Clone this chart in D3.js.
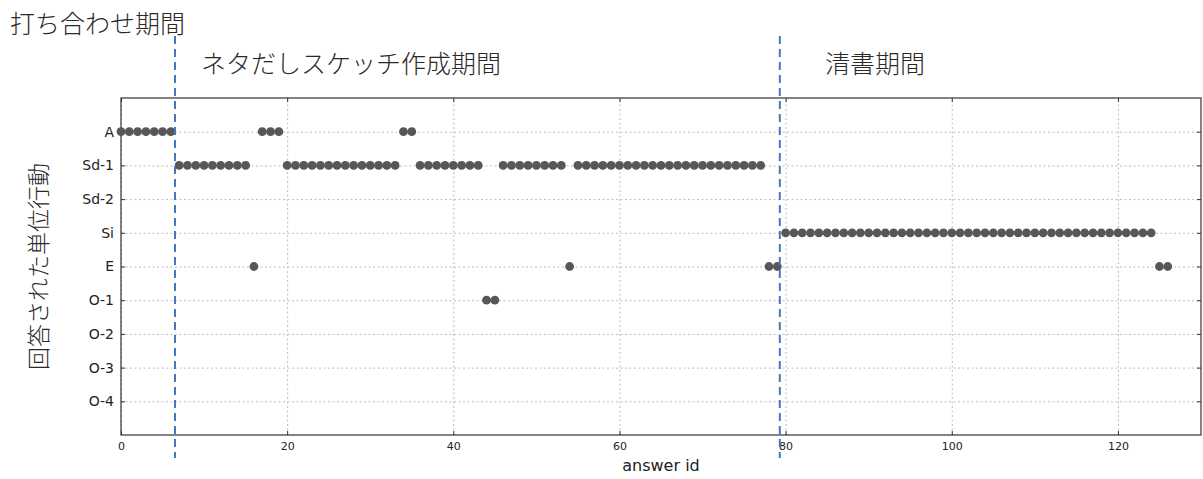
<!DOCTYPE html>
<meta charset="utf-8">
<script src="https://d3js.org/d3.v7.min.js"></script>
<style>
  body { margin: 0; background: #fff; }
  .jp { font-family: "Noto Sans CJK JP", sans-serif; font-weight: 300; fill: #2a2a2a; }
  .tick text { font-family: "DejaVu Sans", sans-serif; fill: #222; }
</style>
<div id="chart"></div>
<script>

// unit actions (y categories, top to bottom)
var categories = ["A", "Sd-1", "Sd-2", "Si", "E", "O-1", "O-2", "O-3", "O-4"];

// action for each answer id (0, 1, 2, ...)
var answers = [
  "A", "A", "A", "A", "A", "A", "A",                                   // 0-6
  "Sd-1", "Sd-1", "Sd-1", "Sd-1", "Sd-1", "Sd-1", "Sd-1", "Sd-1", "Sd-1", // 7-15
  "E",                                                                 // 16
  "A", "A", "A",                                                       // 17-19
  "Sd-1", "Sd-1", "Sd-1", "Sd-1", "Sd-1", "Sd-1", "Sd-1",
  "Sd-1", "Sd-1", "Sd-1", "Sd-1", "Sd-1", "Sd-1", "Sd-1",              // 20-33
  "A", "A",                                                            // 34-35
  "Sd-1", "Sd-1", "Sd-1", "Sd-1", "Sd-1", "Sd-1", "Sd-1", "Sd-1",      // 36-43
  "O-1", "O-1",                                                        // 44-45
  "Sd-1", "Sd-1", "Sd-1", "Sd-1", "Sd-1", "Sd-1", "Sd-1", "Sd-1",      // 46-53
  "E",                                                                 // 54
  "Sd-1", "Sd-1", "Sd-1", "Sd-1", "Sd-1", "Sd-1", "Sd-1", "Sd-1",
  "Sd-1", "Sd-1", "Sd-1", "Sd-1", "Sd-1", "Sd-1", "Sd-1", "Sd-1",
  "Sd-1", "Sd-1", "Sd-1", "Sd-1", "Sd-1", "Sd-1", "Sd-1",              // 55-77
  "E", "E",                                                            // 78-79
  "Si", "Si", "Si", "Si", "Si", "Si", "Si", "Si", "Si", "Si",
  "Si", "Si", "Si", "Si", "Si", "Si", "Si", "Si", "Si", "Si",
  "Si", "Si", "Si", "Si", "Si", "Si", "Si", "Si", "Si", "Si",
  "Si", "Si", "Si", "Si", "Si", "Si", "Si", "Si", "Si", "Si",
  "Si", "Si", "Si", "Si", "Si",                                        // 80-124
  "E", "E"                                                             // 125-126
];

var xTicks = [0, 20, 40, 60, 80, 100, 120];
var xMax = 130;

// phase boundaries (answer id) and phase names
var phaseBreaks = [6.5, 79.3];
var phaseNames = ["打ち合わせ期間", "ネタだしスケッチ作成期間", "清書期間"];

// dimensions
var margin = {top: 98, right: 2, bottom: 44, left: 121},
    width = 1203 - margin.left - margin.right,
    height = 479 - margin.top - margin.bottom;

var svg = d3.select("#chart")
  .append("svg")
    .attr("width", 1203)
    .attr("height", 479);

var g = svg.append("g")
    .attr("transform", "translate(" + margin.left + "," + margin.top + ")");

// scales
var x = d3.scaleLinear().domain([0, xMax]).range([0, width]);
var y = d3.scaleLinear().domain([-1, categories.length]).range([0, height]);
var yIndex = categories.map(function(d, i) { return i; });

// dotted grid
g.append("g")
    .attr("class", "grid")
    .attr("transform", "translate(0," + height + ")")
    .call(d3.axisBottom(x).tickValues(xTicks).tickSize(-height).tickFormat(""));
g.append("g")
    .attr("class", "grid")
    .call(d3.axisLeft(y).tickValues(yIndex).tickSize(-width).tickFormat(""));
g.selectAll(".grid .domain").remove();
g.selectAll(".grid line")
    .style("stroke", "#bdbdbd")
    .style("stroke-width", 1)
    .style("stroke-dasharray", "2,2.5");

// axes with inward ticks on all four sides
var xAxis = g.append("g")
    .attr("transform", "translate(0," + height + ")")
    .call(d3.axisBottom(x).tickValues(xTicks).tickSize(-4).tickPadding(7));
xAxis.selectAll("text").style("font-size", "11px");

var yAxis = g.append("g")
    .call(d3.axisLeft(y).tickValues(yIndex).tickSize(-4).tickPadding(7)
      .tickFormat(function(i) { return categories[i]; }));
yAxis.selectAll("text").style("font-size", "14px");

g.append("g")
    .call(d3.axisTop(x).tickValues(xTicks).tickSize(-4).tickFormat(""));
g.append("g")
    .attr("transform", "translate(" + width + ",0)")
    .call(d3.axisRight(y).tickValues(yIndex).tickSize(-4).tickFormat(""));

g.selectAll(".domain").remove();
g.selectAll(".tick line:not(.grid .tick line)").style("stroke", "#333");

// frame
g.append("rect")
    .attr("width", width)
    .attr("height", height)
    .style("fill", "none")
    .style("stroke", "#333")
    .style("stroke-width", 1.2);

// points
g.selectAll("circle.pt")
    .data(answers)
    .enter()
    .append("circle")
      .attr("class", "pt")
      .attr("cx", function(d, i) { return x(i); })
      .attr("cy", function(d) { return y(categories.indexOf(d)); })
      .attr("r", 4.4)
      .style("fill", "#575757");

// phase boundaries
g.selectAll("line.phase")
    .data(phaseBreaks)
    .enter()
    .append("line")
      .attr("class", "phase")
      .attr("x1", function(d) { return x(d); })
      .attr("x2", function(d) { return x(d); })
      .attr("y1", -62)
      .attr("y2", height + 23)
      .style("stroke", "#4479c0")
      .style("stroke-width", 2)
      .style("stroke-dasharray", "8,5");

// phase names
svg.append("text").attr("class", "jp").attr("x", 10).attr("y", 33)
    .style("font-size", "25px").text(phaseNames[0]);
svg.append("text").attr("class", "jp").attr("x", 201).attr("y", 73)
    .style("font-size", "25px").text(phaseNames[1]);
svg.append("text").attr("class", "jp").attr("x", 825).attr("y", 73)
    .style("font-size", "25px").text(phaseNames[2]);

// axis labels
svg.append("text")
    .attr("x", margin.left + width / 2)
    .attr("y", 471)
    .attr("text-anchor", "middle")
    .style("font-family", "DejaVu Sans, sans-serif")
    .style("font-size", "16px")
    .style("fill", "#222")
    .text("answer id");

svg.append("text")
    .attr("class", "jp")
    .attr("transform", "translate(47," + (margin.top + height / 2) + ") rotate(-90)")
    .attr("text-anchor", "middle")
    .style("font-size", "23px")
    .text("回答された単位行動");

</script>
